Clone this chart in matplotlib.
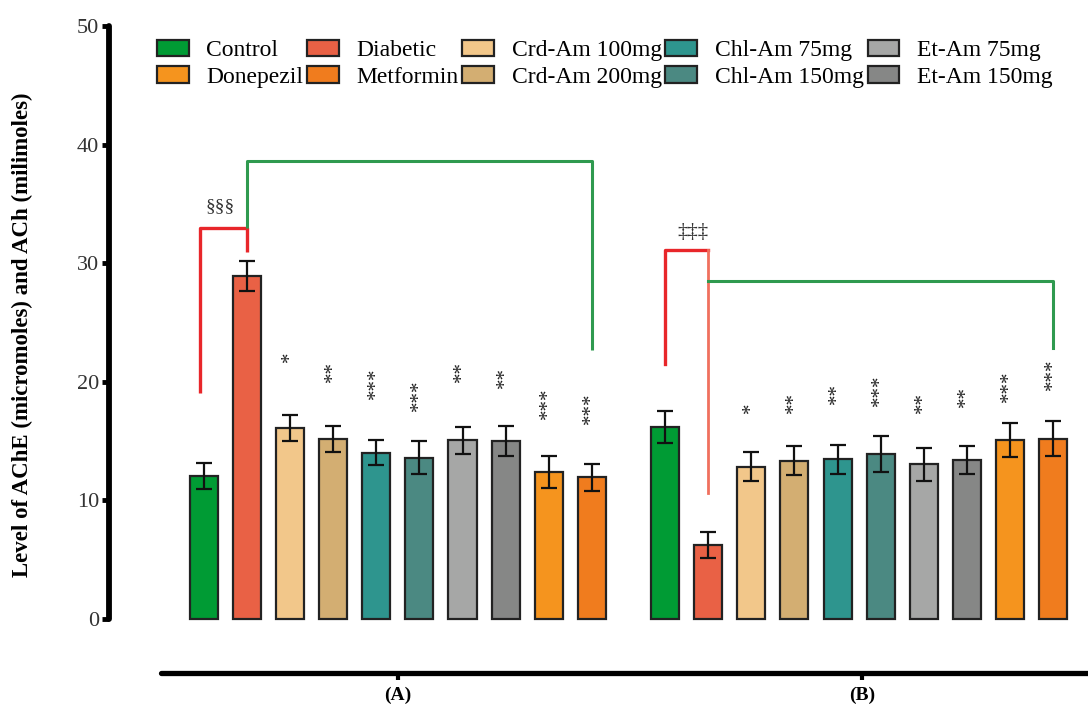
import matplotlib
matplotlib.use('Agg')
import matplotlib.pyplot as plt
from matplotlib.patches import Patch
import numpy as np

plt.rcParams['font.family'] = ['Liberation Serif', 'DejaVu Serif']

# data
groups = ['Control', 'Diabetic', 'Crd-Am 100mg', 'Crd-Am 200mg', 'Chl-Am 75mg',
          'Chl-Am 150mg', 'Et-Am 75mg', 'Et-Am 150mg', 'Donepezil', 'Metformin']
colors = ['#009b34', '#e96145', '#f2c78a', '#d3ae72', '#2e958e',
          '#4b8982', '#a6a7a6', '#868786', '#f5941e', '#f07c1e']
ache_mean = [12.05, 28.9, 16.1, 15.15, 14.0, 13.6, 15.05, 15.0, 12.4, 11.95]
ache_err = [1.1, 1.25, 1.1, 1.1, 1.05, 1.4, 1.1, 1.25, 1.35, 1.15]
ach_mean = [16.2, 6.25, 12.85, 13.35, 13.45, 13.9, 13.05, 13.4, 15.1, 15.2]
ach_err = [1.35, 1.1, 1.25, 1.25, 1.25, 1.5, 1.4, 1.2, 1.45, 1.5]
ache_stars = ['', '', '*', '**', '***', '***', '**', '**', '***', '***']
ache_star_y = [0, 0, 22.1, 20.85, 19.9, 18.85, 20.85, 20.4, 18.2, 17.8]
ach_stars = ['', '', '*', '**', '**', '***', '**', '**', '***', '***']
ach_star_y = [0, 0, 17.8, 18.25, 19.05, 19.3, 18.25, 18.75, 19.6, 20.65]
panel_labels = ['(A)', '(B)']

xa = np.arange(10)
xb = np.arange(10) + 10.7
w = 0.65

fig = plt.figure(figsize=(10.88, 7.09), dpi=100)
ax = fig.add_axes([0.1002, 0.0508, 0.8998, 0.9177])

for xs, m, e in [(xa, ache_mean, ache_err), (xb, ach_mean, ach_err)]:
    ax.bar(xs, m, w, color=colors, edgecolor='#222222', linewidth=1.6, zorder=2)
    ax.errorbar(xs, m, yerr=e, fmt='none', ecolor='#111111', elinewidth=1.6,
                capsize=6, capthick=1.6, zorder=3)

for xs, st, sy in [(xa, ache_stars, ache_star_y), (xb, ach_stars, ach_star_y)]:
    for x, s, y in zip(xs, st, sy):
        if s:
            ax.text(x, y, s, rotation=90, ha='center', va='center', fontsize=15,
                    color='#222222')

red, green, lred = '#e8262a', '#2f9a4f', '#f0705e'
# panel A brackets
ax.plot([xa[0] - 0.1, xa[0] - 0.1, xa[1], xa[1]], [19.05, 33.0, 33.0, 30.9],
        color=red, lw=2.4, solid_capstyle='butt')
ax.plot([xa[1], xa[1], xa[9], xa[9]], [33.0, 38.6, 38.6, 22.7],
        color=green, lw=2.2, solid_capstyle='butt')
ax.text(0.38, 34.8, '§§§', ha='center', va='center', fontsize=14, color='#333333')
# panel B brackets
ax.plot([xb[0], xb[0], xb[1]], [21.5, 31.1, 31.1], color=red, lw=2.4)
ax.plot([xb[1], xb[1]], [31.1, 10.6], color=lred, lw=2.0)
ax.plot([xb[1], xb[9], xb[9]], [28.5, 28.5, 22.85], color=green, lw=2.2)
ax.text(xb[0] + 0.65, 32.6, '‡‡‡', ha='center', va='center', fontsize=15, color='#333333')

ax.set_xlim(-2.2, 20.51)
ax.set_ylim(-4.55, 50.3)
for s in ['top', 'right']:
    ax.spines[s].set_visible(False)
ax.spines['left'].set_bounds(0, 50)
ax.spines['left'].set_linewidth(4.2)
ax.spines['bottom'].set_bounds(-1.0, 20.51)
ax.spines['bottom'].set_linewidth(3.8)
ax.spines['bottom'].set_capstyle('round')
ax.spines['left'].set_capstyle('round')
ax.set_yticks([0, 10, 20, 30, 40, 50])
ax.tick_params(axis='y', width=3.5, length=5, labelsize=16, labelcolor='#333333', pad=2)
ax.set_xticks([(xa[0] + xa[9]) / 2, (xb[0] + xb[9]) / 2 + 0.07])
ax.set_xticklabels(panel_labels, fontweight='bold', fontsize=14)
ax.tick_params(axis='x', width=3.0, length=5, pad=5)
ax.set_ylabel('Level of AChE (micromoles) and ACh (milimoles)', fontsize=16.5,
              fontweight='bold')
ax.yaxis.set_label_coords(-0.078, 0.52)

order = [0, 8, 1, 9, 2, 3, 4, 5, 6, 7]
handles = [Patch(facecolor=colors[i], edgecolor='#222222', linewidth=1.6) for i in order]
ax.legend(handles, [groups[i] for i in order], ncol=5, loc='upper left',
          bbox_to_anchor=(0.039, 0.988), frameon=False, fontsize=17,
          handlelength=1.35, handleheight=0.72, handletextpad=0.75, columnspacing=0.15,
          labelspacing=0.22, borderaxespad=0.0)

fig.savefig('out.png', dpi=100)
